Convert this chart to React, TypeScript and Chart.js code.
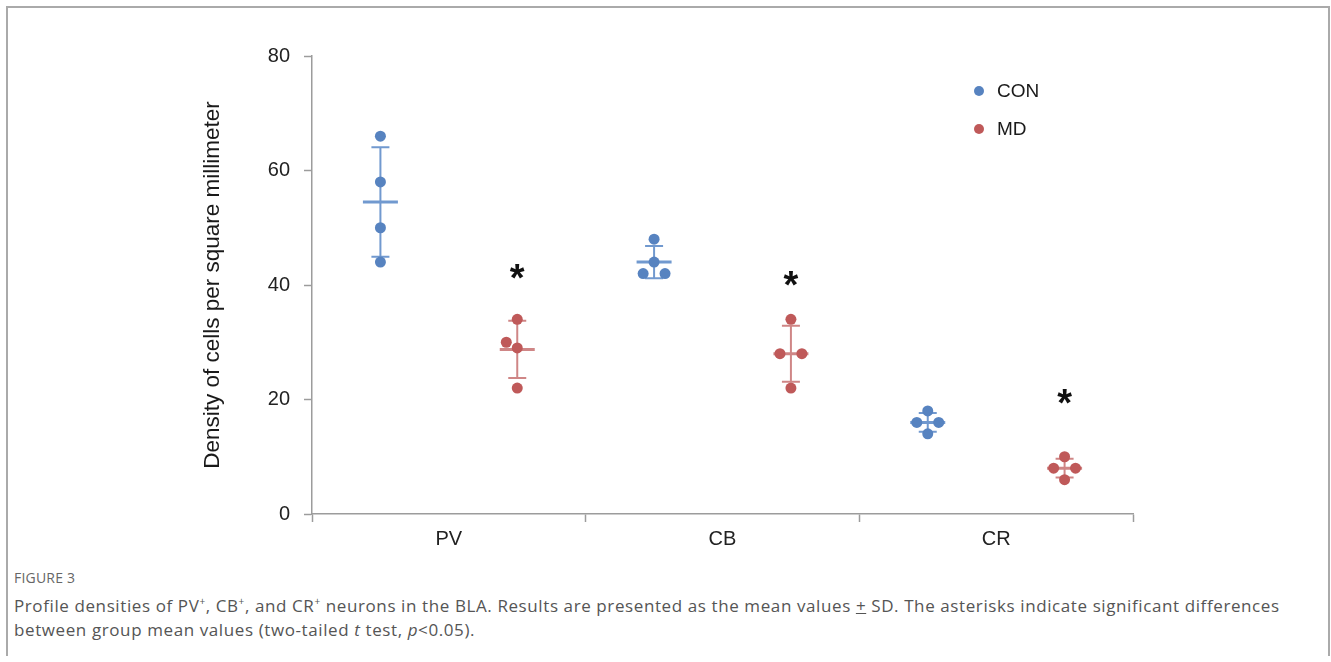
import React, { useEffect, useRef } from "react";
import { Chart, registerables } from "chart.js";

Chart.register(...registerables);

const categories = ["PV", "CB", "CR"];
const seriesNames = ["CON", "MD"];
// values per category (4 animals each)
const conValues = [
  [66, 58, 50, 44],
  [48, 44, 42, 42],
  [18, 16, 16, 14],
];
const mdValues = [
  [34, 30, 29, 22],
  [34, 28, 28, 22],
  [10, 8, 8, 6],
];
// horizontal jitter of overlapping points (in category units)
const conJitter = [
  [0, 0, 0, 0],
  [0, 0, -0.04, 0.04],
  [0, -0.04, 0.04, 0],
];
const mdJitter = [
  [0, -0.04, 0, 0],
  [0, -0.04, 0.04, 0],
  [0, -0.04, 0.04, 0],
];
// significance marks (value at glyph centre) above the MD group
const asteriskValues = [42.6, 41.4, 20.8];
const yTicks = [0, 20, 40, 60, 80];

const CON_POINT = "#5783c0";
const MD_POINT = "#bf5959";
const CON_BAR = "#7199cf";
const MD_BAR = "#cf8686";
const AXIS = "#9c9c9c";
const FONT = "'Liberation Sans', Arial, sans-serif";

const OFFSETS = [0.25, 0.75];

function meanSd(v: number[]) {
  const m = v.reduce((a, b) => a + b, 0) / v.length;
  const s = Math.sqrt(v.reduce((a, b) => a + (b - m) * (b - m), 0) / (v.length - 1));
  return { m, s };
}

function makePoints(values: number[][], jitter: number[][], off: number) {
  const pts: { x: number; y: number }[] = [];
  values.forEach((grp, g) => {
    grp.forEach((y, i) => pts.push({ x: g + off + jitter[g][i], y }));
  });
  return pts;
}

const errorBarPlugin = {
  id: "errorBars",
  beforeDatasetsDraw(chart: any) {
    const { ctx, scales } = chart;
    const xs = scales.x;
    const ys = scales.y;
    const all = [conValues, mdValues];
    const colors = [CON_BAR, MD_BAR];
    ctx.save();
    all.forEach((vals, si) => {
      ctx.strokeStyle = colors[si];
      vals.forEach((grp, g) => {
        const { m, s } = meanSd(grp);
        const px = xs.getPixelForValue(g + OFFSETS[si]);
        const yTop = ys.getPixelForValue(m + s);
        const yBot = ys.getPixelForValue(m - s);
        const yM = ys.getPixelForValue(m);
        ctx.lineWidth = 2;
        ctx.beginPath();
        ctx.moveTo(px, yTop);
        ctx.lineTo(px, yBot);
        ctx.moveTo(px - 9, yTop);
        ctx.lineTo(px + 9, yTop);
        ctx.moveTo(px - 9, yBot);
        ctx.lineTo(px + 9, yBot);
        ctx.stroke();
        ctx.lineWidth = 3;
        ctx.beginPath();
        ctx.moveTo(px - 17.5, yM);
        ctx.lineTo(px + 17.5, yM);
        ctx.stroke();
      });
    });
    ctx.restore();
  },
  afterDatasetsDraw(chart: any) {
    const { ctx, scales, chartArea } = chart;
    const xs = scales.x;
    const ys = scales.y;
    ctx.save();
    // asterisks
    const size = 38;
    ctx.font = `bold ${size}px ${FONT}`;
    ctx.fillStyle = "#111";
    ctx.textAlign = "center";
    ctx.textBaseline = "alphabetic";
    asteriskValues.forEach((v, g) => {
      const px = xs.getPixelForValue(g + OFFSETS[1]);
      const py = ys.getPixelForValue(v);
      ctx.fillText("*", px, py + size * 0.56);
    });
    // legend
    const lx = chartArea.right - 154;
    const ly = chartArea.top + 35;
    const colors = [CON_POINT, MD_POINT];
    ctx.font = `19px ${FONT}`;
    ctx.textAlign = "left";
    ctx.textBaseline = "middle";
    seriesNames.forEach((name, i) => {
      const y = ly + i * 38;
      ctx.fillStyle = colors[i];
      ctx.beginPath();
      ctx.arc(lx, y, 5, 0, Math.PI * 2);
      ctx.fill();
      ctx.fillStyle = "#1a1a1a";
      ctx.fillText(name, lx + 18, y + 1);
    });
    ctx.restore();
  },
};

function ChartView() {
  const ref = useRef<HTMLCanvasElement | null>(null);
  useEffect(() => {
    if (!ref.current) return;
    const chart = new Chart(ref.current, {
      type: "scatter",
      data: {
        datasets: [
          {
            label: seriesNames[0],
            data: makePoints(conValues, conJitter, OFFSETS[0]),
            backgroundColor: CON_POINT,
            borderWidth: 0,
            pointRadius: 5.5,
          },
          {
            label: seriesNames[1],
            data: makePoints(mdValues, mdJitter, OFFSETS[1]),
            backgroundColor: MD_POINT,
            borderWidth: 0,
            pointRadius: 5.5,
          },
        ],
      },
      options: {
        animation: false,
        responsive: false,
        events: [],
        layout: { padding: { left: 184, top: 48, right: 196, bottom: 0 } },
        plugins: { legend: { display: false }, tooltip: { enabled: false } },
        scales: {
          x: {
            type: "linear",
            min: 0,
            max: categories.length,
            afterFit(scale: any) {
              scale.height = 44;
            },
            afterBuildTicks(scale: any) {
              const t: { value: number }[] = [];
              for (let i = 0; i <= categories.length * 2; i++) t.push({ value: i / 2 });
              scale.ticks = t;
            },
            border: { display: true, color: AXIS, width: 1.5 },
            grid: {
              drawOnChartArea: false,
              drawTicks: true,
              tickLength: 8,
              tickWidth: 1.5,
              tickColor: (c: any) =>
                c.tick && Number.isInteger(c.tick.value) ? AXIS : "rgba(0,0,0,0)",
            },
            ticks: {
              autoSkip: false,
              maxRotation: 0,
              padding: 5,
              color: "#222",
              font: { family: FONT, size: 20 },
              callback: (v: any) => {
                const n = Number(v);
                return Number.isInteger(n) ? "" : categories[Math.floor(n)];
              },
            },
          },
          y: {
            min: yTicks[0],
            max: yTicks[yTicks.length - 1],
            afterFit(scale: any) {
              scale.width = 120;
            },
            afterBuildTicks(scale: any) {
              scale.ticks = yTicks.map((v) => ({ value: v }));
            },
            border: { display: true, color: AXIS, width: 1.5 },
            grid: {
              drawOnChartArea: false,
              tickLength: 8,
              tickWidth: 1.5,
              tickColor: AXIS,
            },
            ticks: {
              padding: 14,
              color: "#222",
              font: { family: FONT, size: 20 },
            },
            title: {
              display: true,
              text: "Density of cells per square millimeter",
              color: "#1a1a1a",
              font: { family: FONT, size: 22.5 },
              padding: { top: 7, bottom: 0 },
            },
          },
        },
      },
      plugins: [errorBarPlugin],
    } as any);
    return () => chart.destroy();
  }, []);
  return (
    <canvas
      ref={ref}
      width={1321}
      height={550}
      style={{ position: "absolute", left: 0, top: 0, width: 1321, height: 550 }}
    />
  );
}

export default function App() {
  return (
    <div
      style={{
        position: "absolute",
        left: 6,
        top: 6,
        width: 1324,
        height: 650,
        boxSizing: "border-box",
        borderTopWidth: 2,
        borderLeftWidth: 2,
        borderRightWidth: 2,
        borderBottomWidth: 0,
        borderStyle: "solid",
        borderColor: "#aaaaaa",
        background: "#fff",
        overflow: "hidden",
      }}
    >
      <ChartView />
      <div
        style={{
          position: "absolute",
          left: 6,
          top: 561,
          fontFamily: "'Open Sans', sans-serif",
          fontSize: 14,
          lineHeight: "18px",
          color: "#666",
          letterSpacing: 0.2,
        }}
      >
        FIGURE 3
      </div>
      <div
        style={{
          position: "absolute",
          left: 6,
          top: 586,
          fontFamily: "'Open Sans', sans-serif",
          fontSize: 17,
          lineHeight: "24px",
          color: "#555",
          letterSpacing: 0.6,
          whiteSpace: "nowrap",
        }}
      >
        Profile densities of PV<sup style={{ fontSize: 10, lineHeight: 0 }}>+</sup>, CB
        <sup style={{ fontSize: 10, lineHeight: 0 }}>+</sup>, and CR
        <sup style={{ fontSize: 10, lineHeight: 0 }}>+</sup> neurons in the BLA. Results are
        presented as the mean values <span style={{ textDecoration: "underline" }}>+</span> SD.
        The asterisks indicate significant differences
        <br />
        between group mean values (two-tailed <i>t</i> test, <i>p</i>&lt;0.05).
      </div>
    </div>
  );
}
